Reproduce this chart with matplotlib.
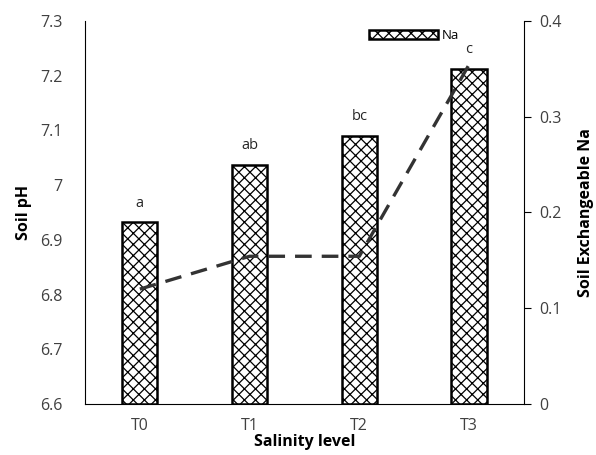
import matplotlib
matplotlib.use('Agg')
import matplotlib.pyplot as plt

plt.rcParams['font.family'] = ['Open Sans', 'DejaVu Sans']
plt.rcParams['hatch.linewidth'] = 0.9

# 数据
levels = ['T0', 'T1', 'T2', 'T3']
soil_ph = [6.81, 6.87, 6.87, 7.22]
soil_na = [0.19, 0.25, 0.28, 0.35]
letters = ['a', 'ab', 'bc', 'c']

fig = plt.figure(figsize=(5.96, 4.55), dpi=100)
ax = fig.add_axes([0.1426, 0.112, 0.7364, 0.842])
ax2 = ax.twinx()

x = list(range(len(levels)))

# 柱：Na（右轴）
bars = ax2.bar(x, soil_na, width=0.32, color='white', edgecolor='black',
               linewidth=1.8, hatch='xxx', label='Na')
for xi, v, lab in zip(x, soil_na, letters):
    ax2.text(xi, v + 0.012, lab, ha='center', va='bottom', fontsize=10.5,
             color='#262626')
ax2.set_ylim(0, 0.4)
ax2.set_yticks([0, 0.1, 0.2, 0.3, 0.4])
ax2.set_yticklabels(['0', '0.1', '0.2', '0.3', '0.4'])
ax2.set_ylabel('Soil Exchangeable Na', fontsize=11.5, fontweight='bold', labelpad=12)
ax2.tick_params(axis='y', direction='out', length=5, labelsize=11.5,
                labelcolor='#404040', pad=6)

# 线：pH（左轴，画在柱上层）
ax.set_zorder(ax2.get_zorder() + 1)
ax.patch.set_visible(False)
ax.plot(x, soil_ph, color='#333333', lw=2.4, ls=(0, (5, 3)))
ax.set_ylim(6.6, 7.3)
ax.set_yticks([6.6, 6.7, 6.8, 6.9, 7.0, 7.1, 7.2, 7.3])
ax.set_yticklabels(['6.6', '6.7', '6.8', '6.9', '7', '7.1', '7.2', '7.3'])
ax.set_xlim(-0.5, 3.5)
ax.set_xticks(x)
ax.set_xticklabels(levels)
ax.tick_params(axis='both', length=0, labelsize=11.5, labelcolor='#404040', pad=16)
ax.tick_params(axis='x', pad=10)
ax.set_ylabel('Soil pH', fontsize=11.5, fontweight='bold', labelpad=6)
ax.set_xlabel('Salinity level', fontsize=11.5, fontweight='bold', labelpad=0)

for a in (ax, ax2):
    a.spines['top'].set_visible(False)
ax.spines['right'].set_visible(False)
ax2.spines['left'].set_visible(False)
ax2.spines['bottom'].set_visible(False)

ax2.legend(handles=[bars], loc='upper left', bbox_to_anchor=(0.62, 1.01),
           frameon=False, fontsize=9.5, handlelength=5.2, handleheight=0.65,
           handletextpad=0.3)

fig.savefig('out.png', dpi=100)
